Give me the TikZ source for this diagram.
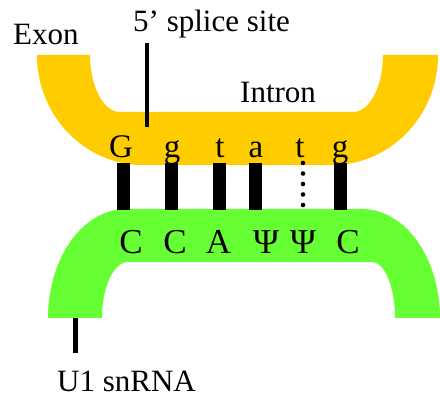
\documentclass[tikz,border=0pt]{standalone}
\usepackage{fontspec}
\setmainfont{Liberation Serif}
\usetikzlibrary{positioning}
\definecolor{intronorange}{RGB}{255,204,0}
\definecolor{snrnagreen}{RGB}{102,255,51}

\begin{document}
\begin{tikzpicture}[x=1pt,y=-1pt,
		lbl/.style={font=\fontsize{31}{36}\selectfont, inner sep=0pt, anchor=base west},
		nt/.style={font=\fontsize{33}{38}\selectfont, inner sep=0pt, anchor=base},
		bnt/.style={font=\fontsize{35}{40}\selectfont, inner sep=0pt, anchor=base},
		pair/.style={black, line width=13pt},
		tick/.style={black, line width=4pt}]
		\useasboundingbox (0,0) rectangle (440,398);
		\clip (0,0) rectangle (440,398);
		% pre-mRNA strand
		\fill [intronorange] (37,55) arc[start angle=180, end angle=90, x radius=106, y radius=110]
			-- (332,165) arc[start angle=90, end angle=0, x radius=106, y radius=110]
			-- (383,55) arc[start angle=0, end angle=90, x radius=30, y radius=57]
			-- (120,112) arc[start angle=90, end angle=180, x radius=30, y radius=57]
			-- cycle;
		% U1 snRNA strand
		\fill [snrnagreen] (48,318) arc[start angle=180, end angle=270, x radius=78, y radius=109]
			-- (362,209) arc[start angle=270, end angle=360, x radius=78, y radius=109]
			-- (395,318) arc[start angle=0, end angle=-90, x radius=23, y radius=56]
			-- (128,262) arc[start angle=270, end angle=180, x radius=26, y radius=56]
			-- cycle;
		% base pairs
		\foreach \x [count=\i] in {123.5,171.5,219.5,255.5,340} {
			\coordinate (up\i) at (\x,163);
			\coordinate (dn\i) at (\x,210);
			\draw [pair] (up\i) -- (dn\i);
		}
		\foreach \y in {163,173.5,184,194.5,205}
			\fill [black] (303,\y) circle (2.3pt);
		% 5' exon/intron bases
		\node [nt] (g1) at (121,158) {G};
		\node [nt] (g2) at (172,158) {g};
		\node [nt] (g3) at (220,158) {t};
		\node [nt] (g4) at (256,158) {a};
		\node [nt] (g5) at (300,158) {t};
		\node [nt] (g6) at (340,158) {g};
		% U1 bases
		\node [bnt] (u1) at (131,254) {C};
		\node [bnt] (u2) at (175,254) {C};
		\node [bnt] (u3) at (218.5,254) {A};
		\node [bnt] (u4) at (266,254) {Ψ};
		\node [bnt] (u5) at (303,254) {Ψ};
		\node [bnt] (u6) at (348,254) {C};
		% labels
		\node [lbl] (exon) at (13,45) {Exon};
		\node [lbl] (intron) at (240,103) {Intron};
		\node [lbl] (splice) at (133,32) {5’ splice site};
		\node [lbl] (snrna) at (57,392) {U1 snRNA};
		\coordinate (site top) at (147,43);
		\coordinate (site) at (147,127);
		\draw [tick] (site top) -- (site);
		\coordinate (snrna end) at (75,318);
		\coordinate (snrna top) at (75,353);
		\draw [tick, line width=5pt] (snrna end) -- (snrna top);
\end{tikzpicture}
\end{document}
